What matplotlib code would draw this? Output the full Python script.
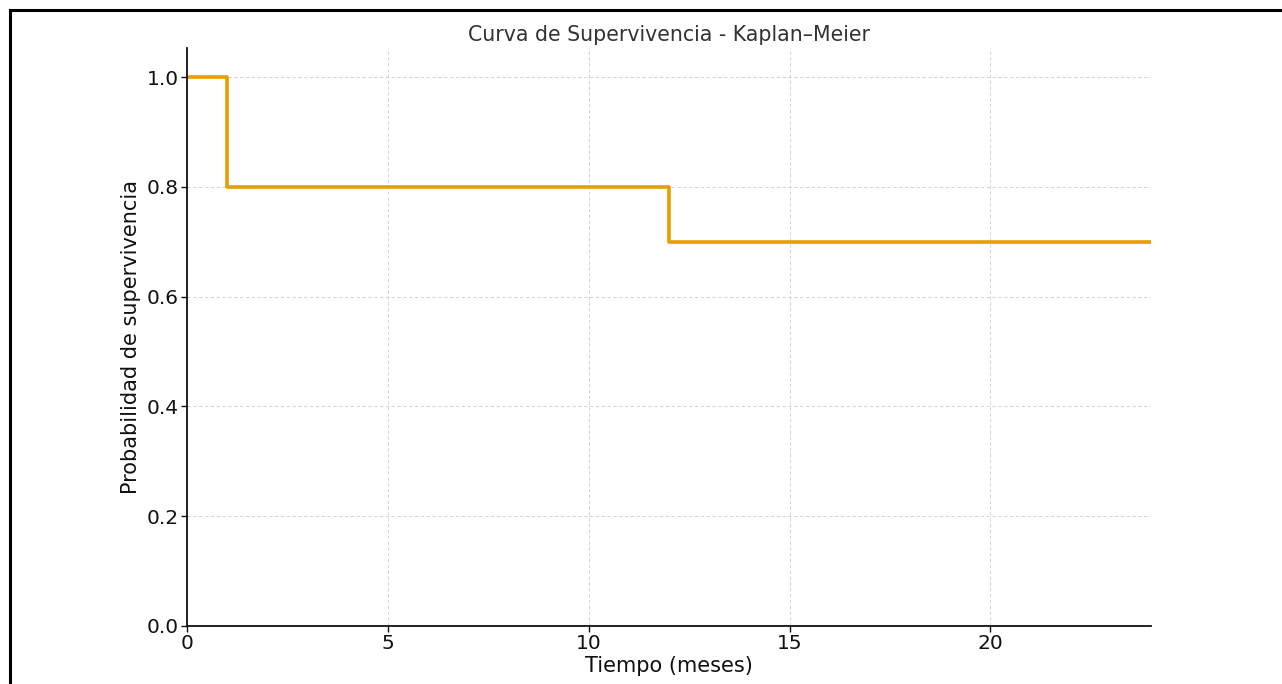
import matplotlib.pyplot as plt
from matplotlib.lines import Line2D

# Kaplan-Meier step data
tiempo = [0, 1, 12, 24]
supervivencia = [1.0, 0.8, 0.7, 0.7]

x_ticks = [0, 5, 10, 15, 20]
y_ticks = [0.0, 0.2, 0.4, 0.6, 0.8, 1.0]

fig = plt.figure(figsize=(12.82, 6.84), dpi=100)
ax = fig.add_axes([0.1459, 0.0848, 0.7519, 0.845])

ax.step(tiempo, supervivencia, where='post', color='#E69F00', linewidth=2.6)

ax.set_xlim(0, 24)
ax.set_ylim(0, 1.053)
ax.set_xticks(x_ticks)
ax.set_yticks(y_ticks)
ax.set_yticklabels([f"{v:.1f}" for v in y_ticks])
ax.tick_params(labelsize=14.5, colors='#111111', width=1, length=4, pad=2)

ax.grid(True, linestyle=(0, (4, 3)), color='#cccccc', linewidth=0.6)
ax.spines['top'].set_visible(False)
ax.spines['right'].set_visible(False)
for s in ['left', 'bottom']:
    ax.spines[s].set_linewidth(1.3)
    ax.spines[s].set_color('#111111')

ax.set_title('Curva de Supervivencia - Kaplan\u2013Meier', fontsize=14.8, color='#333333', pad=5)
ax.set_xlabel('Tiempo (meses)', fontsize=15, color='#111111', labelpad=2)
ax.set_ylabel('Probabilidad de supervivencia', fontsize=15, color='#111111', labelpad=4)

# screenshot frame on left and top edges
fig.add_artist(Line2D([10 / 1282, 10 / 1282], [0, 1 - 10 / 684], transform=fig.transFigure, color='black', linewidth=2.2))
fig.add_artist(Line2D([10 / 1282, 1], [1 - 10 / 684, 1 - 10 / 684], transform=fig.transFigure, color='black', linewidth=2.2))

fig.savefig('out.png', dpi=100)
